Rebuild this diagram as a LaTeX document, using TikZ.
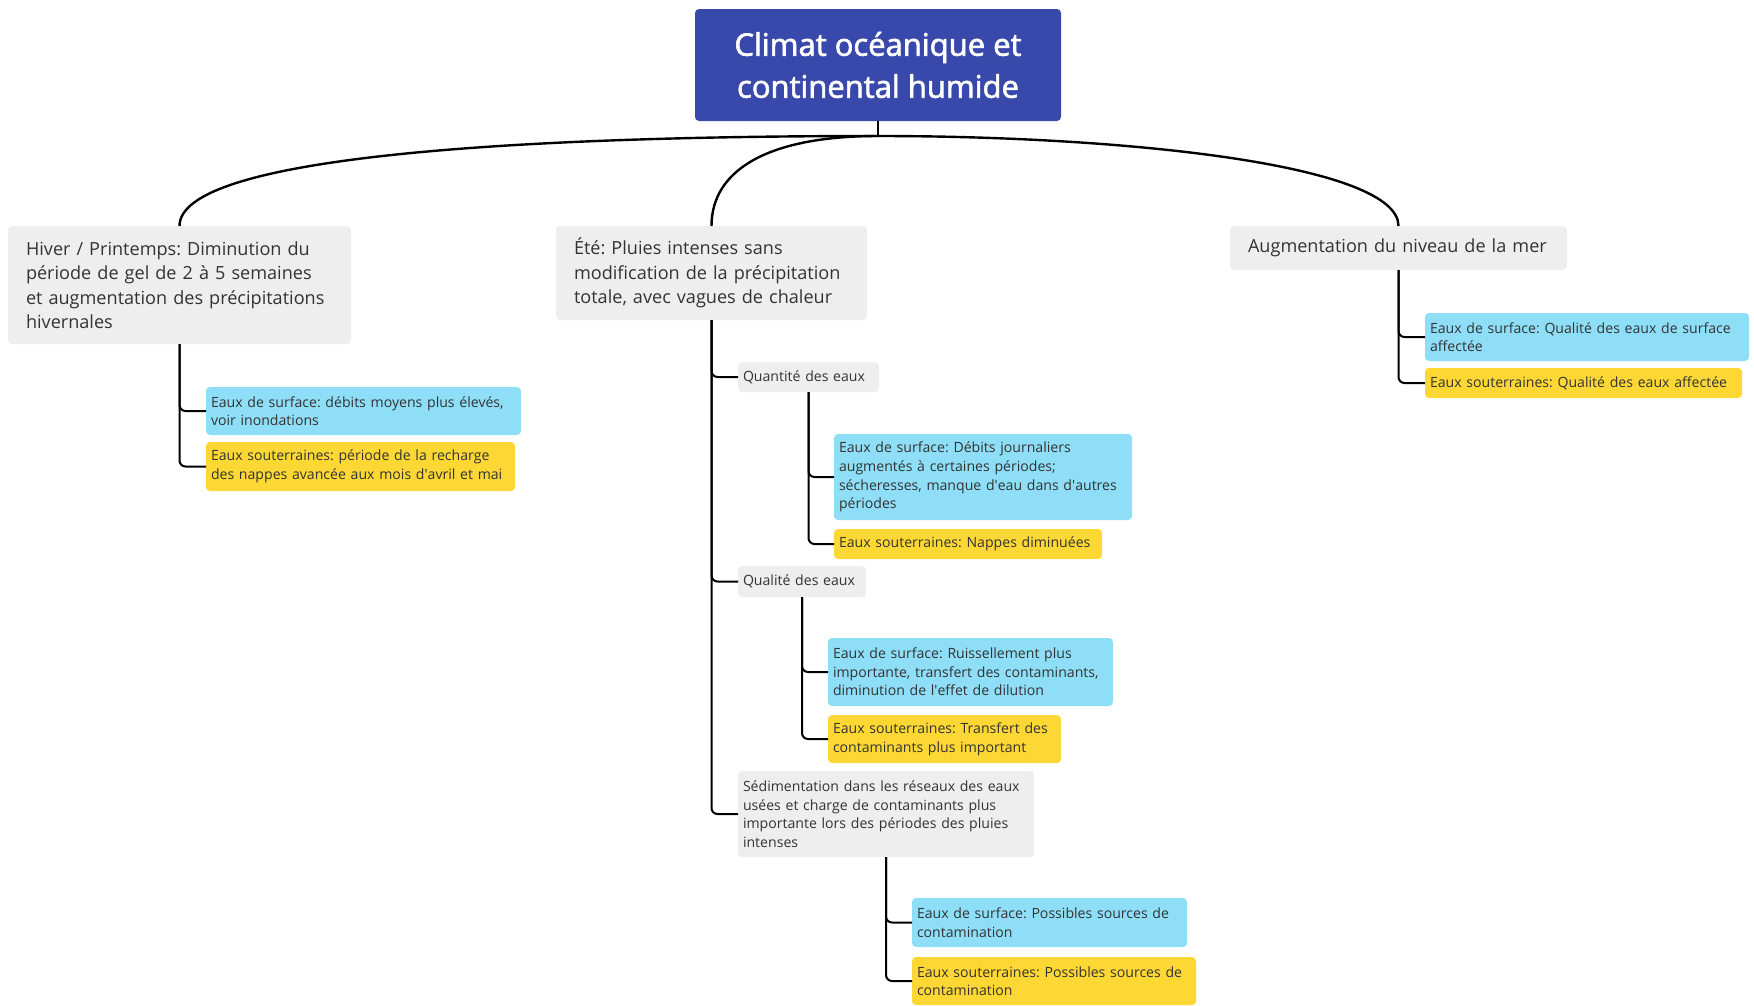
\documentclass[tikz,border=0pt]{standalone}
\usepackage{fontspec}
\setmainfont{Open Sans}
\newfontfamily\titlefont[FakeBold=2]{Open Sans}
\usepackage{tikz}
\usetikzlibrary{positioning}
\definecolor{rootblue}{HTML}{3949AB}
\definecolor{greybox}{HTML}{EEEEEE}
\definecolor{surfblue}{HTML}{8EDEF8}
\definecolor{soutyellow}{HTML}{FDD835}
\definecolor{txtgrey}{HTML}{333333}
\newcommand{\ap}{\textquotesingle}
\frenchspacing
\tikzset{
	%Define style for the central box
	racine/.style={
	       rectangle,
	       rounded corners=4pt,
	       fill=rootblue,
	       text=white,
	       align=center,
	       font=\titlefont\fontsize{31}{42}\selectfont,
	       minimum width=366pt,
	       minimum height=112pt,
	       inner sep=0pt, outer sep=0pt},
	%Define style for the main themes
	theme/.style={
	       rectangle,
	       rounded corners=4pt,
	       fill=greybox,
	       text=txtgrey,
	       align=left,
	       font=\fontsize{18.1}{24.5}\selectfont,
	       inner xsep=18pt, inner ysep=0pt, outer sep=0pt,
	       anchor=north west},
	%Define style for the sub themes
	soustheme/.style={
	       theme,
	       font=\fontsize{14.1}{18.6}\selectfont,
	       inner xsep=5pt},
	surf/.style={soustheme, fill=surfblue},
	sout/.style={soustheme, fill=soutyellow},
	% Define line styles
	branche/.style={
	       line width=2.4pt},
	tige/.style={
	       line width=2pt,
	       rounded corners=6pt}
}

\begin{document}
\begin{tikzpicture}[x=1pt, y=-1pt]
		\useasboundingbox (0,0) rectangle (1754,1005);
		\node[racine](root) at (878,65){Climat océanique et\\continental humide};
		\coordinate (hub) at (878,136);
		\node[theme, text width=307pt, minimum height=118pt](hiv) at (8,226){Hiver / Printemps: Diminution du\\période de gel de 2 à 5 semaines\\et augmentation des précipitations\\hivernales};
		\node[theme, text width=275pt, minimum height=94pt](ete) at (556,226){Été: Pluies intenses sans\\modification de la précipitation\\totale, avec vagues de chaleur};
		\node[theme, text width=301pt, minimum height=44pt](mer) at (1230,226){Augmentation du niveau de la mer};
		% hiver / printemps
		\node[surf, below right=43pt and 26.5pt of hiv.south, text width=305pt, minimum height=48pt](hiv_surf){Eaux de surface: débits moyens plus élevés,\\voir inondations};
		\node[sout, below=7pt of hiv_surf.south west, anchor=north west, text width=299pt, minimum height=49pt](hiv_sout){Eaux souterraines: période de la recharge\\des nappes avancée aux mois d\ap avril et mai};
		% ete
		\node[soustheme, below right=42pt and 26.5pt of ete.south, text width=131pt, minimum height=30pt](qte){Quantité des eaux};
		\node[surf, below right=42pt and 25.5pt of qte.south, text width=288pt, minimum height=86pt](qte_surf){Eaux de surface: Débits journaliers\\augmentés à certaines périodes;\\sécheresses, manque d\ap eau dans d\ap autres\\périodes};
		\node[sout, below=9pt of qte_surf.south west, anchor=north west, text width=258pt, minimum height=30pt](qte_sout){Eaux souterraines: Nappes diminuées};
		\node[soustheme, below=174pt of qte.south west, anchor=north west, text width=118pt, minimum height=31pt](qlt){Qualité des eaux};
		\node[surf, below right=41pt and 26pt of qlt.south, text width=275pt, minimum height=68pt](qlt_surf){Eaux de surface: Ruissellement plus\\importante, transfert des contaminants,\\diminution de l\ap effet de dilution};
		\node[sout, below=9pt of qlt_surf.south west, anchor=north west, text width=223pt, minimum height=48pt](qlt_sout){Eaux souterraines: Transfert des\\contaminants plus important};
		\node[soustheme, below=174pt of qlt.south west, anchor=north west, text width=286pt, minimum height=86pt](sed){Sédimentation dans les réseaux des eaux\\usées et charge de contaminants plus\\importante lors des périodes des pluies\\intenses};
		\node[surf, below right=41pt and 26pt of sed.south, text width=265pt, minimum height=49pt](sed_surf){Eaux de surface: Possibles sources de\\contamination};
		\node[sout, below=10pt of sed_surf.south west, anchor=north west, text width=274pt, minimum height=48pt](sed_sout){Eaux souterraines: Possibles sources de\\contamination};
		% niveau de la mer
		\node[surf, below right=43pt and 26.5pt of mer.south, text width=314pt, minimum height=48pt](mer_surf){Eaux de surface: Qualité des eaux de surface\\affectée};
		\node[sout, below=7pt of mer_surf.south west, anchor=north west, text width=307pt, minimum height=30pt](mer_sout){Eaux souterraines: Qualité des eaux affectée};
		% branches
		\draw[branche] (root.south) -- (hub);
		\draw[branche] (hub) .. controls (528,136) and (179.5,155) .. (hiv.north);
		\draw[branche] (hub) .. controls (768,136) and (711.5,170) .. (ete.north);
		\draw[branche] (hub) .. controls (1128,136) and (1398.5,165) .. (mer.north);
		\draw[tige] (hiv.south) |- (hiv_surf.west);
		\draw[tige] (hiv.south) |- (hiv_sout.west);
		\draw[tige] (ete.south) |- (qte.west);
		\draw[tige] (ete.south) |- (qlt.west);
		\draw[tige] (ete.south) |- (sed.west);
		\draw[tige] (qte.south) |- (qte_surf.west);
		\draw[tige] (qte.south) |- (qte_sout.west);
		\draw[tige] (qlt.south) |- (qlt_surf.west);
		\draw[tige] (qlt.south) |- (qlt_sout.west);
		\draw[tige] (sed.south) |- (sed_surf.west);
		\draw[tige] (sed.south) |- (sed_sout.west);
		\draw[tige] (mer.south) |- (mer_surf.west);
		\draw[tige] (mer.south) |- (mer_sout.west);
	\end{tikzpicture}
\end{document}
